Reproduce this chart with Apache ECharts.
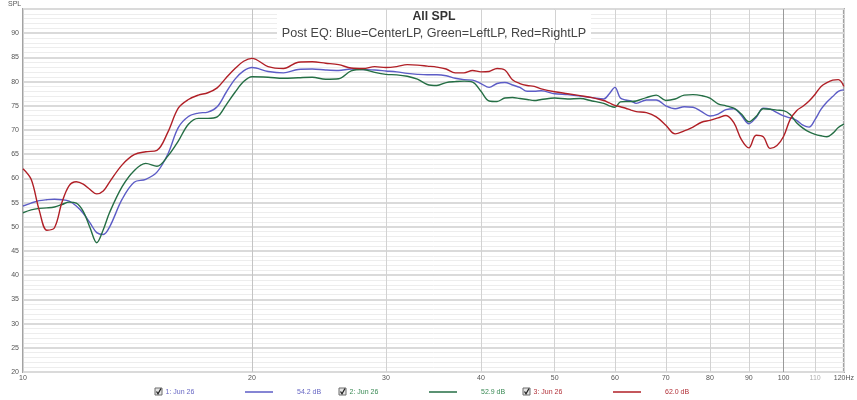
<!DOCTYPE html>
<html><head><meta charset="utf-8">
<script src="https://cdn.jsdelivr.net/npm/echarts@6/dist/echarts.min.js"></script>
<style>html,body{margin:0;padding:0;background:#fff}#c{width:857px;height:400px}</style>
</head><body><div id="c"></div>
<script>
// ---- data ----
const freqs = [10,10.25,10.5,10.75,11,11.25,11.5,11.75,12,12.25,12.5,12.75,13,
  13.5,14,14.5,15,15.5,16,16.5,17,17.5,18,18.5,19,19.5,20,
  21,22,23,24,25,26,27,28,29,30,31,32,33,34,35,36,37,38,39,40,41,42,43,44,45,46,47,48,
  50,52,54,56,58,
  59,60,61,62,63,64,
  66,68,70,72,74,76,78,80,82,84,86,88,90,92,94,96,98,100,
  102,104,106,108,110,112,114,116,118,120];

const blueSPL = [54.3,54.9,55.4,55.6,55.7,55.6,55.3,54.3,52.8,50.8,48.8,48.4,50.0,
  55.7,59.2,59.8,61.3,65.0,70.5,72.8,73.5,73.7,74.8,77.8,80.5,82.2,82.9,
  82.1,81.8,82.5,82.6,82.4,82.3,82.6,82.5,82.4,82.2,82.0,81.7,81.5,81.4,81.4,81.2,80.7,80.4,80.3,79.6,78.8,79.6,79.8,79.3,78.8,78.0,78.0,78.1,
  77.5,77.3,77.0,76.7,76.4,
  77.5,78.8,76.6,76.2,76.0,75.5,
  76.2,76.2,75.0,74.4,74.8,74.7,73.8,72.9,73.3,74.2,74.4,73.0,71.3,72.6,74.5,74.3,73.6,72.9,
  72.5,72.0,71.0,70.6,72.2,74.3,75.8,76.9,78.0,78.3];

const greenSPL = [52.9,53.5,53.8,53.9,54.1,54.6,55.1,54.9,53.2,49.8,46.7,49.4,53.0,
  58.3,61.6,63.1,62.5,64.6,67.7,71.2,72.4,72.4,72.7,75.2,77.8,80.0,81.0,
  80.9,80.7,80.8,80.9,80.5,80.6,82.2,82.5,81.9,81.5,81.4,81.1,80.5,79.4,79.2,79.8,80.0,80.1,79.9,78.0,76.0,75.9,76.6,76.7,76.5,76.3,76.1,76.3,
  76.6,76.4,76.5,76.0,75.5,
  75.0,74.7,75.8,75.9,75.9,76.0,
  76.7,77.2,76.1,76.4,77.2,77.3,77.1,76.6,75.4,75.0,74.5,73.3,71.7,72.8,74.4,74.3,74.1,74.0,
  73.2,71.5,70.4,69.6,69.1,68.8,68.6,69.3,70.5,71.2];

const redSPL = [62.0,59.8,53.5,49.3,49.8,55.0,58.5,59.3,58.8,57.7,56.8,57.4,59.3,
  62.8,64.9,65.5,65.8,69.5,74.5,76.3,77.2,77.7,78.7,80.8,82.7,84.2,84.8,
  83.1,82.7,84.0,84.1,83.8,83.5,82.8,82.7,83.1,82.9,83.1,83.5,83.4,83.2,83.0,82.6,81.8,81.8,82.3,82.0,82.1,82.7,82.4,80.4,79.6,79.2,79.0,78.5,
  77.9,77.5,77.1,76.7,76.1,
  75.6,75.1,74.8,74.5,74.1,73.8,
  73.6,72.7,71.0,69.2,69.8,70.6,71.6,72.0,72.5,73.0,71.5,68.0,66.3,68.9,68.6,66.2,66.8,68.7,
  72.2,74.0,74.9,76.0,77.4,79.0,79.8,80.3,80.4,79.0];

const xTickValues = [10,20,30,40,50,60,70,80,90,100,110,120];
const yMin = 20, yMax = 95, yStep = 5;
const titleText = 'All SPL';
const subtitleText = 'Post EQ: Blue=CenterLP, Green=LeftLP, Red=RightLP';
const yAxisName = 'SPL';
const legendNames = ['1: Jun 26', '2: Jun 26', '3: Jun 26'];
const legendLevels = ['54.2 dB', '52.9 dB', '62.0 dB'];

// ---- styles ----
const lineColors = ['#5c5cc6', '#246e44', '#b01f26'];
const textColors = ['#6767c4', '#3a8a55', '#b23038'];
const FONT = '"Liberation Sans", Arial, sans-serif';
const vLineColor = '#d2d2d2';

const chart = echarts.init(document.getElementById('c'), null, {renderer: 'canvas'});

const mk = arr => freqs.map((f, i) => [f, arr[i]]);
const seriesData = [blueSPL, greenSPL, redSPL];

const vColors = xTickValues.map(v => v === 100 ? '#9a9a9a' : (v === 20 ? '#c4c4c4' : vLineColor));

const graphics = [];
const boxTop = 10, boxH = 33, boxL = 277, boxW = 314;
graphics.push({type:'rect', z: 10, shape:{x: boxL, y: boxTop, width: boxW, height: boxH}, style:{fill:'#fff'}});
graphics.push({type:'text', z: 12, x: 434, y: 17, style:{text: titleText, font: 'bold 12.3px ' + FONT, fill:'#333', align:'center', verticalAlign:'middle', textAlign:'center', textVerticalAlign:'middle'}});
graphics.push({type:'text', z: 12, x: 434, y: 34, style:{text: subtitleText, font: '12.6px ' + FONT, fill:'#444', align:'center', verticalAlign:'middle', textAlign:'center', textVerticalAlign:'middle'}});
graphics.push({type:'text', x: 8, y: 4, style:{text: yAxisName, font: '7px ' + FONT, fill:'#555', align:'left', verticalAlign:'middle', textAlign:'left', textVerticalAlign:'middle'}});

const legendX = [155, 339, 523];
const legendY = 392;
legendX.forEach((lx, i) => {
  graphics.push({type:'rect', shape:{x: lx, y: legendY - 4, width: 7, height: 7}, style:{fill:'#e4e4e4', stroke:'#6d6d6d', lineWidth: 1}});
  graphics.push({type:'polyline', shape:{points:[[lx+1.5, legendY-0.5],[lx+3, legendY+1.8],[lx+6, legendY-3.5]]}, style:{stroke:'#222', lineWidth: 1.3, fill: null}});
  graphics.push({type:'text', x: lx + 10.5, y: legendY, style:{text: legendNames[i], font: '7px ' + FONT, fill: textColors[i], align:'left', verticalAlign:'middle', textAlign:'left', textVerticalAlign:'middle'}});
  graphics.push({type:'line', shape:{x1: lx + 90, y1: legendY, x2: lx + 118, y2: legendY}, style:{stroke: lineColors[i], lineWidth: 1.5}});
  graphics.push({type:'text', x: lx + 142, y: legendY, style:{text: legendLevels[i], font: '7px ' + FONT, fill: textColors[i], align:'left', verticalAlign:'middle', textAlign:'left', textVerticalAlign:'middle'}});
});

const option = {
  animation: false,
  backgroundColor: '#fff',
  grid: {left: 23, top: 9, width: 822.5, height: 363, show: true, borderColor: '#a3a3a3', borderWidth: 2, backgroundColor: 'transparent'},
  xAxis: {
    type: 'log', logBase: 10, min: 10, max: 120,
    axisLine: {show: false},
    axisTick: {show: false, customValues: xTickValues},
    axisLabel: {
      customValues: xTickValues,
      margin: 3, fontSize: 7, fontFamily: FONT, color: '#555',
      formatter: v => { const r = Math.round(v); return r === 120 ? '120Hz' : (r === 110 ? '{g|110}' : String(r)); },
      rich: {g: {color: '#b0b0b0', fontSize: 7, fontFamily: FONT}}
    },
    splitLine: {show: true, lineStyle: {color: vColors, width: 1}},
    minorSplitLine: {show: false}
  },
  yAxis: {
    type: 'value', min: yMin, max: yMax, interval: yStep,
    axisLine: {show: false}, axisTick: {show: false},
    axisLabel: {margin: 4, fontSize: 7, fontFamily: FONT, color: '#555', formatter: v => v === yMax ? '' : String(v)},
    splitLine: {show: true, lineStyle: {color: '#dadada', width: 2}},
    minorTick: {show: false, splitNumber: 5},
    minorSplitLine: {show: true, lineStyle: {color: '#ededed', width: 1}}
  },
  series: seriesData.map((arr, i) => ({
    type: 'line', data: mk(arr), smooth: 0.35, showSymbol: false, symbol: 'none',
    lineStyle: {color: lineColors[i], width: 1.4}, itemStyle: {color: lineColors[i]}, z: 3
  })),
  graphic: graphics
};
chart.setOption(option);

// vertical grid lines continue through the title box (positions from the library's x scale)
const extra = [];
xTickValues.forEach(v => {
  const px = chart.convertToPixel({xAxisIndex: 0}, v);
  if (px > boxL && px < boxL + boxW) {
    const x = Math.round(px) + 0.5;
    extra.push({type:'line', z: 11, shape:{x1: x, y1: boxTop, x2: x, y2: boxTop + boxH}, style:{stroke: vLineColor, lineWidth: 1}});
  }
});
chart.setOption({graphic: graphics.concat(extra)});
</script>
</body></html>
